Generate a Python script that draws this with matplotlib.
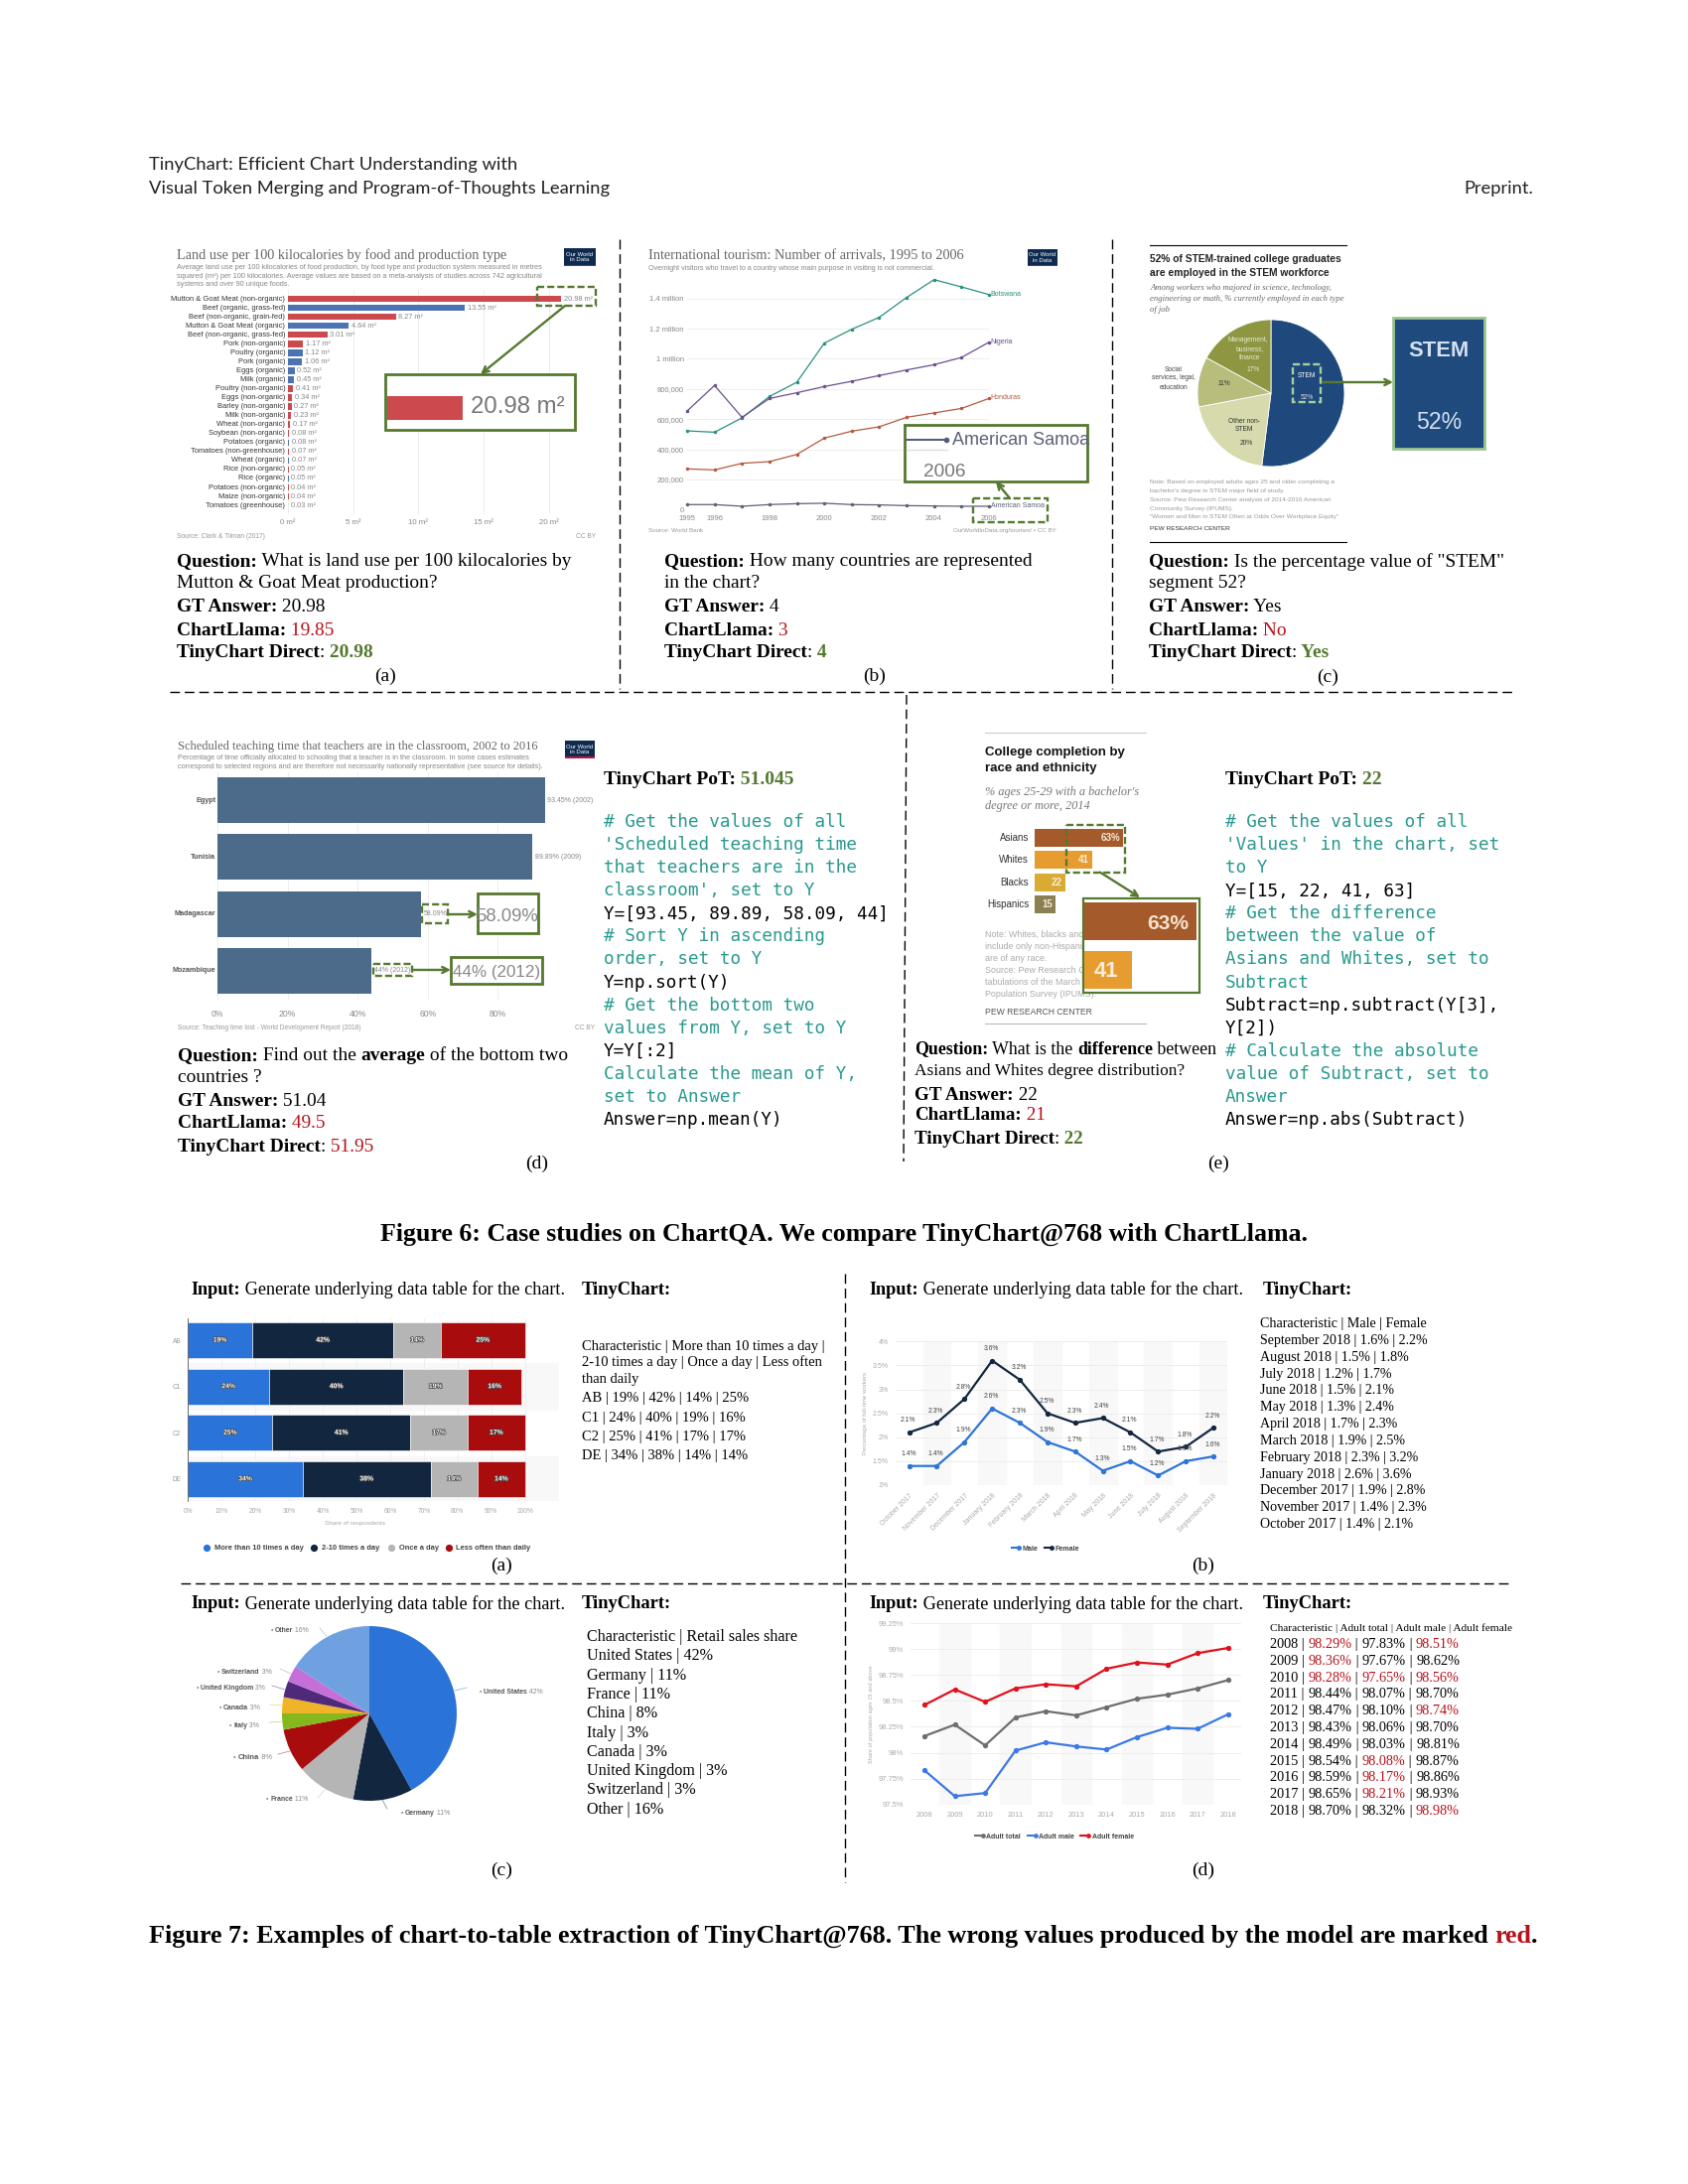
import numpy as np
import matplotlib
matplotlib.use("Agg")
import matplotlib.pyplot as plt
from matplotlib.patches import Rectangle
import matplotlib.patheffects as pe

W, H = 1700, 2200
SERIF = "Liberation Serif"
SANS = "Liberation Sans"
MONO = "DejaVu Sans Mono"
GREEN = "#55792f"
RED = "#b5121b"
TEAL = "#2a9a8f"

# (a) land use
land_names = ["Mutton & Goat Meat (non-organic)", "Beef (organic, grass-fed)", "Beef (non-organic, grain-fed)",
              "Mutton & Goat Meat (organic)", "Beef (non-organic, grass-fed)", "Pork (non-organic)",
              "Poultry (organic)", "Pork (organic)", "Eggs (organic)", "Milk (organic)",
              "Poultry (non-organic)", "Eggs (non-organic)", "Barley (non-organic)", "Milk (non-organic)",
              "Wheat (non-organic)", "Soybean (non-organic)", "Potatoes (organic)", "Tomatoes (non-greenhouse)",
              "Wheat (organic)", "Rice (non-organic)", "Rice (organic)", "Potatoes (non-organic)",
              "Maize (non-organic)", "Tomatoes (greenhouse)"]
land_vals = [20.98, 13.55, 8.27, 4.64, 3.01, 1.17, 1.12, 1.06, 0.52, 0.45, 0.41, 0.34, 0.27, 0.23, 0.17,
             0.08, 0.08, 0.07, 0.07, 0.05, 0.05, 0.04, 0.04, 0.03]
land_organic = [0, 1, 0, 1, 0, 0, 1, 1, 1, 1, 0, 0, 0, 0, 0, 0, 1, 0, 1, 0, 1, 0, 0, 0]

# (b) tourism
tour_years = [1995, 1996, 1997, 1998, 1999, 2000, 2001, 2002, 2003, 2004, 2005, 2006]
botswana = [522, 513, 608, 750, 845, 1104, 1196, 1275, 1407, 1525, 1477, 1426]
nigeria = [654, 823, 612, 737, 775, 816, 851, 889, 926, 961, 1009, 1110]
honduras = [270, 263, 307, 318, 366, 474, 520, 549, 612, 641, 671, 737]
samoa = [33, 33, 22, 33, 39, 42, 33, 31, 26, 24, 22, 22]

# (c) STEM pie
stem_vals = [52, 20, 11, 17]
stem_colors = ["#1f497d", "#d6daad", "#b8bd7c", "#8e9641"]

# (d) teaching time
teach_names = ["Egypt", "Tunisia", "Madagascar", "Mozambique"]
teach_vals = [93.45, 89.89, 58.09, 44]
teach_labels = ["93.45% (2002)", "89.89% (2009)", "58.09%", "44% (2012)"]

# (e) college completion
coll_names = ["Asians", "Whites", "Blacks", "Hispanics"]
coll_vals = [63, 41, 22, 15]
coll_labels = ["63%", "41", "22", "15"]
coll_colors = ["#a45a2a", "#e79c2f", "#d9ab35", "#8b8052"]

# fig 7 (a) stacked bars
stack_rows = ["AB", "C1", "C2", "DE"]
stack_more10 = [19, 24, 25, 34]
stack_2to10 = [42, 40, 41, 38]
stack_once = [14, 19, 17, 14]
stack_less = [25, 16, 17, 14]
stack_names = ["More than 10 times a day", "2-10 times a day", "Once a day", "Less often than daily"]
stack_colors = ["#2a74d9", "#12273f", "#b5b5b5", "#a80c0c"]

# fig 7 (b) lines
months = ["October 2017", "November 2017", "December 2017", "January 2018", "February 2018", "March 2018",
          "April 2018", "May 2018", "June 2018", "July 2018", "August 2018", "September 2018"]
male = [1.4, 1.4, 1.9, 2.6, 2.3, 1.9, 1.7, 1.3, 1.5, 1.2, 1.5, 1.6]
female = [2.1, 2.3, 2.8, 3.6, 3.2, 2.5, 2.3, 2.4, 2.1, 1.7, 1.8, 2.2]

# fig 7 (c) pie
sales_names = ["United States", "Germany", "France", "China", "Italy", "Canada", "United Kingdom", "Switzerland", "Other"]
sales_vals = [42, 11, 11, 8, 3, 3, 3, 3, 16]
sales_colors = ["#2a74d9", "#12273f", "#b5b5b5", "#a80c0c", "#85b81c", "#f0b429", "#4f2a7a", "#c56fd8", "#6fa0e0"]

# fig 7 (d) literacy
lit_years = [2008, 2009, 2010, 2011, 2012, 2013, 2014, 2015, 2016, 2017, 2018]
lit_total = [98.16, 98.27, 98.07, 98.34, 98.40, 98.36, 98.44, 98.52, 98.56, 98.62, 98.70]
lit_male = [97.83, 97.58, 97.61, 98.02, 98.10, 98.06, 98.03, 98.15, 98.24, 98.23, 98.37]
lit_female = [98.46, 98.61, 98.49, 98.62, 98.66, 98.64, 98.81, 98.87, 98.85, 98.96, 99.01]

table_b = ["Characteristic | Male | Female", "September 2018 | 1.6% | 2.2%", "August 2018 | 1.5% | 1.8%",
           "July 2018 | 1.2% | 1.7%", "June 2018 | 1.5% | 2.1%", "May 2018 | 1.3% | 2.4%", "April 2018 | 1.7% | 2.3%",
           "March 2018 | 1.9% | 2.5%", "February 2018 | 2.3% | 3.2%", "January 2018 | 2.6% | 3.6%",
           "December 2017 | 1.9% | 2.8%", "November 2017 | 1.4% | 2.3%", "October 2017 | 1.4% | 2.1%"]
table_a = ["Characteristic | More than 10 times a day |", "2-10 times a day | Once a day | Less often", "than daily",
           "AB | 19% | 42% | 14% | 25%", "C1 | 24% | 40% | 19% | 16%", "C2 | 25% | 41% | 17% | 17%", "DE | 34% | 38% | 14% | 14%"]
table_c = ["Characteristic | Retail sales share", "United States | 42%", "Germany | 11%", "France | 11%", "China | 8%",
           "Italy | 3%", "Canada | 3%", "United Kingdom | 3%", "Switzerland | 3%", "Other | 16%"]
table_d_years = ["2008", "2009", "2010", "2011", "2012", "2013", "2014", "2015", "2016", "2017", "2018"]
table_d_total = ["98.29%", "98.36%", "98.28%", "98.44%", "98.47%", "98.43%", "98.49%", "98.54%", "98.59%", "98.65%", "98.70%"]
table_d_male = ["97.83%", "97.67%", "97.65%", "98.07%", "98.10%", "98.06%", "98.03%", "98.08%", "98.17%", "98.21%", "98.32%"]
table_d_female = ["98.51%", "98.62%", "98.56%", "98.70%", "98.74%", "98.70%", "98.81%", "98.87%", "98.86%", "98.93%", "98.98%"]
table_d_wrong = [(0, 1), (0, 3), (1, 1), (2, 1), (2, 2), (2, 3), (4, 3), (7, 2), (8, 2), (9, 2), (10, 3)]

code_d = ["# Get the values of all", "'Scheduled teaching time", "that teachers are in the", "classroom', set to Y",
          "Y=[93.45, 89.89, 58.09, 44]", "# Sort Y in ascending", "order, set to Y", "Y=np.sort(Y)",
          "# Get the bottom two", "values from Y, set to Y", "Y=Y[:2]", "Calculate the mean of Y,", "set to Answer",
          "Answer=np.mean(Y)"]
code_d_black = [4, 7, 10, 13]
code_e = ["# Get the values of all", "'Values' in the chart, set", "to Y", "Y=[15, 22, 41, 63]", "# Get the difference",
          "between the value of", "Asians and Whites, set to", "Subtract", "Subtract=np.subtract(Y[3],", "Y[2])",
          "# Calculate the absolute", "value of Subtract, set to", "Answer", "Answer=np.abs(Subtract)"]
code_e_black = [3, 8, 9, 13]

fig = plt.figure(figsize=(17, 22), dpi=100, facecolor="white")
page = fig.add_axes([0, 0, 1, 1], zorder=20)
page.set_xlim(0, W)
page.set_ylim(H, 0)
page.axis("off")
page.patch.set_alpha(0)
renderer = fig.canvas.get_renderer()


def panel(x0, y0, x1, y1):
    ax = fig.add_axes([x0 / W, 1 - y1 / H, (x1 - x0) / W, (y1 - y0) / H], zorder=5)
    for s in ax.spines.values():
        s.set_visible(False)
    ax.tick_params(length=0)
    return ax


def T(x, y, s, px, color="black", family=SERIF, weight="normal", ha="left", style="normal", **kw):
    return page.text(x, y, s, fontsize=px * 0.72, color=color, family=family, weight=weight, ha=ha,
                     style=style, va="center_baseline", **kw)


def seg_width(s, px, weight, family=SERIF):
    a = page.text(0, 0, s + "|", fontsize=px * 0.72, family=family, weight=weight)
    b = page.text(0, 0, "|", fontsize=px * 0.72, family=family, weight=weight)
    w = a.get_window_extent(renderer).width - b.get_window_extent(renderer).width
    a.remove()
    b.remove()
    return w


def rich(x, y, parts, px, family=SERIF):
    # parts are (text, bold, color)
    for s, bold, c in parts:
        w = "bold" if bold else "normal"
        T(x, y, s, px, color=c, weight=w, family=family)
        x += seg_width(s, px, w, family)


def dashbox(x0, y0, x1, y1, lw=1.7):
    page.add_patch(Rectangle((x0, y0), x1 - x0, y1 - y0, fill=False, ec=GREEN, lw=lw, ls=(0, (3, 1.3))))


def solidbox(x0, y0, x1, y1, lw=2.0, fc="white"):
    page.add_patch(Rectangle((x0, y0), x1 - x0, y1 - y0, fc=fc, ec=GREEN, lw=lw, zorder=2))


def arrow(x0, y0, x1, y1):
    page.annotate("", xy=(x1, y1), xytext=(x0, y0), zorder=3,
                  arrowprops=dict(arrowstyle="->", color=GREEN, lw=1.7, shrinkA=0, shrinkB=0, mutation_scale=11))


def logo(x, y, w, h):
    page.add_patch(Rectangle((x, y), w, h, fc="#0f2a4f", ec="none"))
    page.add_patch(Rectangle((x, y + h - 1.5), w, 1.5, fc="#c0143c", ec="none"))
    T(x + w / 2, y + h / 2 - 0.5, "Our World\nin Data", 6, color="white", family=SANS, ha="center", linespacing=1.0)


def qa(x, ys, qparts, qline2, gt, ll, ll_c, direct, direct_c, px=19.4, qpx=None, q2px=None, label=None, lab_xy=None):
    rich(x, ys[0], qparts, qpx or px)
    T(x, ys[1], qline2, q2px or qpx or px)
    rich(x, ys[2], [("GT Answer:", True, "black"), (" " + gt, False, "black")], px)
    rich(x, ys[3], [("ChartLlama:", True, "black"), (" " + ll, False, ll_c)], px)
    rich(x, ys[4], [("TinyChart Direct", True, "black"), (":", False, "black"), (" " + direct, direct_c == GREEN, direct_c)], px)
    T(lab_xy[0], lab_xy[1], label, 19.5, ha="center")


# page header and separators
T(150, 164, "TinyChart: Efficient Chart Understanding with", 18.4, family="Lato", color="#222222")
T(150, 188, "Visual Token Merging and Program-of-Thoughts Learning", 18.4, family="Lato", color="#222222")
T(1544, 188, "Preprint.", 18.4, family="Lato", color="#222222", ha="right")

dash = (0, (7, 3.5))
for xs, ys in [((624, 624), (241, 694)), ((1120, 1120), (241, 694)), ((171, 1526), (697, 697)), ((913, 910), (700, 1170)),
               ((851, 851), (1283, 1896)), ((182, 1520), (1595, 1595))]:
    page.plot(xs, ys, color="black", lw=1.0, ls=dash)

# Fig 6 (a): land use bars
ax = panel(290, 292, 600, 518)
ax.set_xlim(0, 310 / 13.13)
ax.set_ylim(23 + 9 / 9.16, -1)
ax.barh(range(24), land_vals, height=0.72, color=["#4c74b4" if o else "#cc4a4e" for o in land_organic], zorder=2)
ax.set_xticks([0, 5, 10, 15, 20])
ax.set_xticklabels([])
ax.set_yticks([])
ax.xaxis.grid(True, color="#ececec", lw=0.7)
ax.set_axisbelow(True)
for i, n in enumerate(land_names):
    ax.text(-0.2, i, n, ha="right", va="center", fontsize=5.4, family=SANS, color="#333333")
    ax.text(land_vals[i] + 0.2, i, "%.2f m²" % land_vals[i], ha="left", va="center", fontsize=5.3, family=SANS, color="#888888")
for v in [0, 5, 10, 15, 20]:
    page.text(290 + v * 13.13, 526, "%d m²" % v, fontsize=5.6, family=SANS, color="#888888", ha="center", va="center")
T(178, 255.5, "Land use per 100 kilocalories by food and production type", 14.2, color="#666666")
T(178, 268.5, "Average land use per 100 kilocalories of food production, by food type and production system measured in metres", 7.4, color="#888888", family=SANS)
T(178, 277.3, "squared (m²) per 100 kilocalories. Average values are based on a meta-analysis of studies across 742 agricultural", 7.4, color="#888888", family=SANS)
T(178, 286, "systems and over 90 unique foods.", 7.4, color="#888888", family=SANS)
T(178, 540, "Source: Clark & Tilman (2017)", 6.6, color="#999999", family=SANS)
T(600, 540, "CC BY", 6.6, color="#999999", family=SANS, ha="right")
logo(568, 250, 32, 18)
dashbox(541, 289, 600, 308)
solidbox(388, 377, 579, 433)
page.add_patch(Rectangle((390, 399), 76, 24, fc="#cc4a4e", ec="none", zorder=3))
T(474, 408, "20.98 m²", 24, color="#777777", family=SANS, zorder=3)
arrow(569, 308, 484, 377)
qa(178, [564, 586, 610, 634, 656], [("Question:", True, "black"), (" What is land use per 100 kilocalories by", False, "black")],
   "Mutton & Goat Meat production?", "20.98", "19.85", RED, "20.98", GREEN, label="(a)", lab_xy=(388, 679))

# Fig 6 (b): tourism lines
ax = panel(692, 270, 996, 513.3)
ax.set_xlim(1995, 2006)
per_k = 212.6 / 1400
ax.set_ylim(0, 243.3 / per_k)
for vals, c, name in [(botswana, "#2d8f80", "Botswana"), (nigeria, "#6b4f8f", "Nigeria"), (honduras, "#b5593f", "Honduras"), (samoa, "#5c6078", "American Samoa")]:
    ax.plot(tour_years, vals, color=c, lw=0.9, marker="o", ms=1.5, clip_on=False)
    ax.text(2006.06, vals[-1] + 3, name, color=c, fontsize=5.0, family=SANS, va="center")
ax.set_yticks([200, 400, 600, 800, 1000, 1200, 1400])
ax.set_yticklabels([])
ax.yaxis.grid(True, color="#eeeeee", lw=0.7)
ax.set_xticks([])
ax.axhline(0, color="#cccccc", lw=0.8)
ax.set_axisbelow(True)
for v, s in zip([0, 200, 400, 600, 800, 1000, 1200, 1400], ["0", "200,000", "400,000", "600,000", "800,000", "1 million", "1.2 million", "1.4 million"]):
    T(689, 513.3 - v * per_k, s, 7.6, color="#888888", family=SANS, ha="right")
for y in [1995, 1996, 1998, 2000, 2002, 2004, 2006]:
    T(692 + (y - 1995) * 27.6, 521.5, str(y), 7.6, color="#888888", family=SANS, ha="center")
T(653, 256.5, "International tourism: Number of arrivals, 1995 to 2006", 14.2, color="#666666")
T(653, 269, "Overnight visitors who travel to a country whose main purpose in visiting is not commercial.", 7.2, color="#888888", family=SANS)
T(653, 534, "Source: World Bank", 6.3, color="#999999", family=SANS)
T(1064, 534, "OurWorldInData.org/tourism/ • CC BY", 6.3, color="#999999", family=SANS, ha="right")
logo(1035, 251, 30, 17)
dashbox(980, 502, 1055, 526)
solidbox(911, 428, 1095, 485)
page.plot([913, 952], [443, 443], color="#55597a", lw=1.4)
page.plot([953], [443], "o", color="#55597a", ms=3)
page.plot([913, 954], [453, 453], color="#dddddd", lw=1.0)
T(959, 442, "American Samoa", 18, color="#5c6078", family=SANS)
T(930, 473, "2006", 19, color="#777777", family=SANS)
arrow(1017, 502, 1003, 485)
qa(669, [564, 586, 610, 634, 656], [("Question:", True, "black"), (" How many countries are represented", False, "black")],
   "in the chart?", "4", "3", RED, "4", GREEN, label="(b)", lab_xy=(881, 679))

# Fig 6 (c): STEM pie
page.plot([1158, 1356], [247, 247], color="black", lw=0.8)
page.plot([1158, 1356], [546, 546], color="black", lw=0.8)
T(1158, 260.5, "52% of STEM-trained college graduates", 10.2, family=SANS, weight="bold", color="#222222")
T(1158, 274, "are employed in the STEM workforce", 10.2, family=SANS, weight="bold", color="#222222")
for y, s in [(289, "Among workers who majored in science, technology,"), (300, "engineering or math, % currently employed in each type"), (311, "of job")]:
    T(1158, y, s, 8.7, color="#666666", style="italic")
ax = panel(1206, 322, 1354, 470)
ax.pie(stem_vals, colors=stem_colors, startangle=90, counterclock=False, radius=1.0,
       wedgeprops=dict(ec="white", lw=0.6), center=(0, 0))
ax.set_xlim(-1, 1)
ax.set_ylim(-1, 1)
T(1257, 342, "Management,", 6.7, color="#e8ead0", family=SANS, ha="center")
T(1259, 351, "business,", 6.7, color="#e8ead0", family=SANS, ha="center")
T(1259, 359, "finance", 6.7, color="#e8ead0", family=SANS, ha="center")
T(1262, 371, "17%", 6.7, color="#e8ead0", family=SANS, ha="center")
T(1182, 371, "Social", 6.7, color="#444444", family=SANS, ha="center")
T(1182, 380, "services, legal,", 6.7, color="#444444", family=SANS, ha="center")
T(1182, 389, "education", 6.7, color="#444444", family=SANS, ha="center")
T(1233, 386, "11%", 6.7, color="#333333", family=SANS, ha="center")
T(1253, 423, "Other non-", 6.7, color="#333333", family=SANS, ha="center")
T(1253, 431, "STEM", 6.7, color="#333333", family=SANS, ha="center")
T(1255, 445, "20%", 6.7, color="#333333", family=SANS, ha="center")
T(1316, 377, "STEM", 6.7, color="white", family=SANS, ha="center")
T(1316, 399, "52%", 6.7, color="#dddddd", family=SANS, ha="center")
page.add_patch(Rectangle((1302, 367), 28, 38, fill=False, ec="#a8d09a", lw=1.7, ls=(0, (3, 1.3))))
page.add_patch(Rectangle((1403, 320), 92, 132, fc="#1f4a7e", ec="#9cc48f", lw=2))
T(1449, 351, "STEM", 22, color="#d5dfee", family=SANS, weight="bold", ha="center")
T(1449, 423, "52%", 23, color="#d5dfee", family=SANS, ha="center")
arrow(1332, 385, 1403, 385)
for y, s in [(485, "Note: Based on employed adults ages 25 and older completing a"), (494, "bachelor's degree in STEM major field of study."),
             (503, "Source: Pew Research Center analysis of 2014-2016 American"), (512, "Community Survey (IPUMS)."),
             (520, "\"Women and Men in STEM Often at Odds Over Workplace Equity\"")]:
    T(1158, y, s, 6.5, color="#999999", family=SANS)
T(1158, 532, "PEW RESEARCH CENTER", 6.5, color="#333333", family=SANS)
qa(1157, [564, 586, 610, 634, 656], [("Question:", True, "black"), (" Is the percentage value of \"STEM\"", False, "black")],
   "segment 52?", "Yes", "No", RED, "Yes", GREEN, label="(c)", lab_xy=(1337, 680))

# Fig 6 (d): teaching time bars
ax = panel(219, 778, 570, 1007)
ax.set_xlim(0, 351 / 3.53)
ax.set_ylim(3 + 29 / 57.3, -28 / 57.3)
ax.barh(range(4), teach_vals, height=45.7 / 57.3, color="#4c6a8a", zorder=2)
ax.set_xticks([0, 20, 40, 60, 80])
ax.set_xticklabels([])
ax.set_yticks([])
ax.xaxis.grid(True, color="#eeeeee", lw=0.7)
ax.set_axisbelow(True)
for i, n in enumerate(teach_names):
    ax.text(-0.5, i, n, ha="right", va="center", fontsize=5.2, family=SANS, weight="bold", color="#555555")
    ax.text(teach_vals[i] + 0.7, i, teach_labels[i], ha="left", va="center", fontsize=5.0, family=SANS, color="#888888")
for v in [0, 20, 40, 60, 80]:
    T(219 + v * 3.53, 1021, "%d%%" % v, 8.6, color="#888888", family=SANS, ha="center")
T(179, 751, "Scheduled teaching time that teachers are in the classroom, 2002 to 2016", 12.4, color="#666666")
T(179, 762.5, "Percentage of time officially allocated to schooling that a teacher is in the classroom. In some cases estimates", 7.4, color="#888888", family=SANS)
T(179, 771, "correspond to selected regions and are therefore not necessarily nationally representative (see source for details).", 7.4, color="#888888", family=SANS)
T(179, 1034.5, "Source: Teaching time lost - World Development Report (2018)", 6.6, color="#999999", family=SANS)
T(599, 1034.5, "CC BY", 6.6, color="#999999", family=SANS, ha="right")
logo(569, 746, 30, 17.5)
dashbox(425, 911, 451, 930)
dashbox(376, 971, 415, 983)
solidbox(481, 900, 542, 940)
solidbox(454, 964, 546, 991)
T(511, 921, "58.09%", 18.5, color="#888888", family=SANS, ha="center", zorder=3)
T(500, 978, "44% (2012)", 17, color="#888888", family=SANS, ha="center", zorder=3)
arrow(451, 921, 481, 921)
arrow(415, 977, 454, 977)
qa(179, [1062, 1084, 1108, 1130, 1153],
   [("Question:", True, "black"), (" Find out the ", False, "black"), ("average", True, "black"), (" of the bottom two", False, "black")],
   "countries ?", "51.04", "49.5", RED, "51.95", RED, label="(d)", lab_xy=(541, 1170))

rich(608, 783, [("TinyChart PoT:", True, "black"), (" 51.045", True, GREEN)], 19.5)
for i, line in enumerate(code_d):
    T(608, 826 + i * 23.08, line, 17.6, family=MONO, color="black" if i in code_d_black else TEAL)

# Fig 6 (e): college completion bars
page.plot([992, 1154], [738, 738], color="#cccccc", lw=0.8)
page.plot([992, 1154], [1031, 1031], color="#bbbbbb", lw=0.8)
T(992, 757, "College completion by", 13.3, family=SANS, weight="bold", color="#111111")
T(992, 773, "race and ethnicity", 13.3, family=SANS, weight="bold", color="#111111")
T(992, 796, "% ages 25-29 with a bachelor's", 12.3, color="#777777", style="italic")
T(992, 811, "degree or more, 2014", 12.3, color="#777777", style="italic")
ax = panel(1041.7, 832, 1140, 923)
ax.set_xlim(0, 98.3 / 1.413)
ax.set_ylim(3 + 12 / 22.4, -12 / 22.4)
ax.barh(range(4), coll_vals, height=17.7 / 22.4, color=coll_colors)
ax.set_xticks([])
ax.set_yticks([])
for i, n in enumerate(coll_names):
    ax.text(-4, i, n, ha="right", va="center", fontsize=7.0, family=SANS, color="#333333")
    ax.text(coll_vals[i] - 2, i, coll_labels[i], ha="right", va="center", fontsize=7.0, family=SANS, color="#f7ecd8", weight="bold")
for y, s in [(940, "Note: Whites, blacks and Asians"), (952, "include only non-Hispanics. Hispanics"), (964, "are of any race."),
             (977, "Source: Pew Research Center"), (989, "tabulations of the March Current"), (1001, "Population Survey (IPUMS).")]:
    T(992, y, s, 8.9, color="#aaaaaa", family=SANS, zorder=1)
T(992, 1018, "PEW RESEARCH CENTER", 8.6, color="#555555", family=SANS)
solidbox(1091, 904.7, 1208, 1000, lw=1.6)
page.add_patch(Rectangle((1092.5, 909), 112.5, 38, fc="#a45a2a", ec="none", zorder=3))
page.add_patch(Rectangle((1092.5, 957.5), 47.5, 38, fc="#e79c2f", ec="none", zorder=3))
T(1197, 928, "63%", 21, color="#f3e2cf", family=SANS, weight="bold", ha="right", zorder=4)
T(1102, 976, "41", 22, color="#fbeedb", family=SANS, weight="bold", zorder=4)
dashbox(1074, 831, 1132.7, 878.7)
arrow(1108, 878.7, 1148, 904)
qa(921, [1055, 1077, 1101, 1122, 1145],
   [("Question:", True, "black"), (" What is the ", False, "black"), ("difference", True, "black"), (" between", False, "black")],
   "Asians and Whites degree distribution?", "22", "21", RED, "22", GREEN, label="(e)", lab_xy=(1227, 1170), px=19, qpx=17.8, q2px=17.3)

rich(1234, 783, [("TinyChart PoT:", True, "black"), (" 22", True, GREEN)], 19.5)
for i, line in enumerate(code_e):
    T(1234, 826 + i * 23.08, line, 17.6, family=MONO, color="black" if i in code_e_black else TEAL)

T(850, 1241, "Figure 6: Case studies on ChartQA. We compare TinyChart@768 with ChartLlama.", 25.9, weight="bold", ha="center")

# Fig 7 headers
for x, y in [(192, 1297), (875, 1297), (192, 1614), (875, 1614)]:
    rich(x, y, [("Input:", True, "black"), (" Generate underlying data table for the chart.", False, "black")], 18.3)
for x, y in [(586, 1297), (1272, 1297), (586, 1614), (1272, 1614)]:
    T(x, y, "TinyChart:", 18.5, weight="bold")

# Fig 7 (a): stacked bars
ax = panel(189.3, 1328, 563, 1512)
ax.set_xlim(0, 373.7 / 3.393)
ax.set_ylim(3 + 22 / 46.4, -22 / 46.4)
ax.axhspan(0.5, 1.5, color="#f8f8f8", zorder=0)
ax.axhspan(2.5, 3.5, color="#f8f8f8", zorder=0)
left = np.zeros(4)
for vals, c, n in zip([stack_more10, stack_2to10, stack_once, stack_less], stack_colors, stack_names):
    bars = ax.barh(range(4), vals, left=left, height=36 / 46.4, color=c, ec="white", lw=0.4, zorder=2)
    for i, v in enumerate(vals):
        ax.text(left[i] + v / 2, i, "%d%%" % v, ha="center", va="center", fontsize=4.9, color="white", weight="bold",
                family=SANS, zorder=3, path_effects=[pe.withStroke(linewidth=1.0, foreground="#444444")])
    left += np.array(vals)
ax.set_yticks(range(4))
ax.set_yticklabels(stack_rows, fontsize=4.8, color="#999999", family=SANS)
ax.tick_params(axis="y", pad=5)
ax.set_xticks([0, 10, 20, 30, 40, 50, 60, 70, 80, 90, 100])
ax.set_xticklabels(["%d%%" % v for v in range(0, 101, 10)], fontsize=4.8, color="#aaaaaa", family=SANS)
ax.tick_params(axis="x", pad=5)
ax.xaxis.grid(True, color="#eeeeee", lw=0.6)
ax.set_axisbelow(True)
ax.spines["left"].set_visible(True)
ax.spines["left"].set_color("#555555")
ax.spines["left"].set_linewidth(0.6)
T(358, 1534, "Share of respondents", 6.4, color="#aaaaaa", family=SANS, ha="center")
for lx, tx, c, n in zip([208, 316, 394, 452], [216, 324, 402, 459], stack_colors, stack_names):
    page.plot([lx], [1558.7], "o", color=c, ms=4.2)
    T(tx, 1558.7, n, 7.5, family=SANS, weight="bold", color="#444444")
T(505, 1575, "(a)", 19.5, ha="center")
for y, s in zip([1355, 1371, 1388, 1407, 1427, 1446, 1465], table_a):
    T(586, y, s, 14.5)

# Fig 7 (b): lines
ax = panel(901.7, 1351.3, 1236, 1496)
ax.set_xlim(-0.5, 11.5)
ax.set_ylim(1, 4)
for i in range(1, 12, 2):
    ax.axvspan(i - 0.5, i + 0.5, color="#f8f8f8", zorder=0)
ax.plot(range(12), male, color="#2f74d6", lw=1.6, marker="o", ms=2.8, label="Male", zorder=3, clip_on=False)
ax.plot(range(12), female, color="#12273f", lw=1.6, marker="o", ms=2.8, label="Female", zorder=3, clip_on=False)
for i in range(12):
    ax.text(i - 0.03, male[i] + 0.25, "%.1f%%" % male[i], ha="center", va="center", fontsize=4.9, color="#444444", family=SANS, zorder=4)
    ax.text(i - 0.03, female[i] + 0.25, "%.1f%%" % female[i], ha="center", va="center", fontsize=4.9, color="#444444", family=SANS, zorder=4)
ax.set_yticks([1, 1.5, 2, 2.5, 3, 3.5, 4])
ax.set_yticklabels(["1%", "1.5%", "2%", "2.5%", "3%", "3.5%", "4%"], fontsize=5.0, color="#aaaaaa", family=SANS)
ax.yaxis.grid(True, color="#eaeaea", lw=0.6)
ax.set_axisbelow(True)
ax.set_xticks(range(12))
ax.set_xticklabels(months, fontsize=5.0, color="#aaaaaa", family=SANS, rotation=45, ha="right", rotation_mode="anchor")
ax.tick_params(pad=5)
ax.set_ylabel("Percentage of full-time workers", fontsize=4.3, color="#aaaaaa", family=SANS, labelpad=3)
page.plot([1019, 1026], [1559, 1559], color="#2f74d6", lw=1.5, marker="o", ms=2.5, markevery=[1])
T(1030, 1559, "Male", 7.2, family=SANS, weight="bold", color="#444444")
page.plot([1052, 1059], [1559, 1559], color="#12273f", lw=1.5, marker="o", ms=2.5, markevery=[1])
T(1062.7, 1559, "Female", 7.2, family=SANS, weight="bold", color="#444444")
T(1212, 1575, "(b)", 19.5, ha="center")
for i, s in enumerate(table_b):
    T(1269, 1332 + i * 16.85, s, 14.0)

# Fig 7 (c): retail pie
ax = panel(284, 1638, 460, 1814)
ax.pie(sales_vals, colors=sales_colors, startangle=90, counterclock=False, radius=1.0)
ax.set_xlim(-1, 1)
ax.set_ylim(-1, 1)
pie_lab_x = [483, 404, 268, 235, 231, 221, 198, 219, 273]
pie_lab_y = [1703, 1825, 1812, 1770, 1737, 1719, 1700, 1683, 1642]
lead_x0 = [470, 390, 320, 280, 271, 272, 274, 282, 322]
lead_y0 = [1700, 1822, 1811, 1767, 1735, 1717, 1698, 1681, 1640]
lead_x1 = [458, 385, 327, 292, 284, 284, 287, 293, 329]
lead_y1 = [1703, 1813, 1803, 1764, 1734, 1718, 1702, 1686, 1648]
for i, n in enumerate(sales_names):
    px = 7.6 if n == "China" else 6.9
    rich(pie_lab_x[i], pie_lab_y[i], [("• ", False, "#888888"), (n, True, "#555555"), (" %d%%" % sales_vals[i], False, "#888888")], px, family=SANS)
    page.plot([lead_x0[i], lead_x1[i]], [lead_y0[i], lead_y1[i]], color=sales_colors[i], lw=0.5, alpha=0.6)
T(505, 1882, "(c)", 19.5, ha="center")
for i, s in enumerate(table_c):
    T(590.7, 1647 + i * 19.3, s, 16.1)

# Fig 7 (d): literacy lines
ax = panel(917, 1635, 1250, 1817.7)
ax.set_xlim(2008 - 14 / 30.57, 2018 + 13.3 / 30.57)
ax.set_ylim(97.5, 99.25)
for y in range(2009, 2018, 2):
    ax.axvspan(y - 0.5, y + 0.5, color="#f8f8f8", zorder=0)
ax.plot(lit_years, lit_total, color="#6e6e6e", lw=1.6, marker="o", ms=2.8, zorder=3)
ax.plot(lit_years, lit_male, color="#3c78e6", lw=1.6, marker="o", ms=2.8, zorder=3)
ax.plot(lit_years, lit_female, color="#e3101c", lw=1.6, marker="o", ms=2.8, zorder=3)
ax.set_yticks([97.5, 97.75, 98, 98.25, 98.5, 98.75, 99, 99.25])
ax.set_yticklabels(["97.5%", "97.75%", "98%", "98.25%", "98.5%", "98.75%", "99%", "99.25%"], fontsize=5.4, color="#aaaaaa", family=SANS)
ax.yaxis.grid(True, color="#eaeaea", lw=0.6)
ax.set_axisbelow(True)
ax.set_xticks(lit_years)
ax.set_xticklabels([str(y) for y in lit_years], fontsize=5.4, color="#aaaaaa", family=SANS)
ax.tick_params(pad=5)
ax.set_ylabel("Share of population ages 15 and above", fontsize=4.1, color="#aaaaaa", family=SANS, labelpad=3)
for x, tx, c, n in [(982, 993, "#6e6e6e", "Adult total"), (1035, 1046, "#3c78e6", "Adult male"), (1088, 1100, "#e3101c", "Adult female")]:
    page.plot([x, x + 8], [1849, 1849], color=c, lw=1.5, marker="o", ms=2.4, markevery=[1])
    T(tx, 1849, n, 7.0, family=SANS, weight="bold", color="#444444")
T(1212, 1882, "(d)", 19.5, ha="center")
T(1279, 1639, "Characteristic | Adult total | Adult male | Adult female", 11.3)
for i in range(11):
    cols = [table_d_total[i], table_d_male[i], table_d_female[i]]
    parts = [(table_d_years[i] + " | ", False, "black")]
    for j, c in enumerate(cols):
        parts.append((c, False, RED if (i, j + 1) in table_d_wrong else "black"))
        if j < 2:
            parts.append((" | ", False, "black"))
    rich(1279, 1655 + i * 16.8, parts, 14.2)

rich(150, 1948, [("Figure 7: Examples of chart-to-table extraction of TinyChart@768. The wrong values produced by the model are marked ", True, "black"),
                 ("red", True, RED), (".", True, "black")], 26.1)

fig.savefig("out.png", dpi=100)
